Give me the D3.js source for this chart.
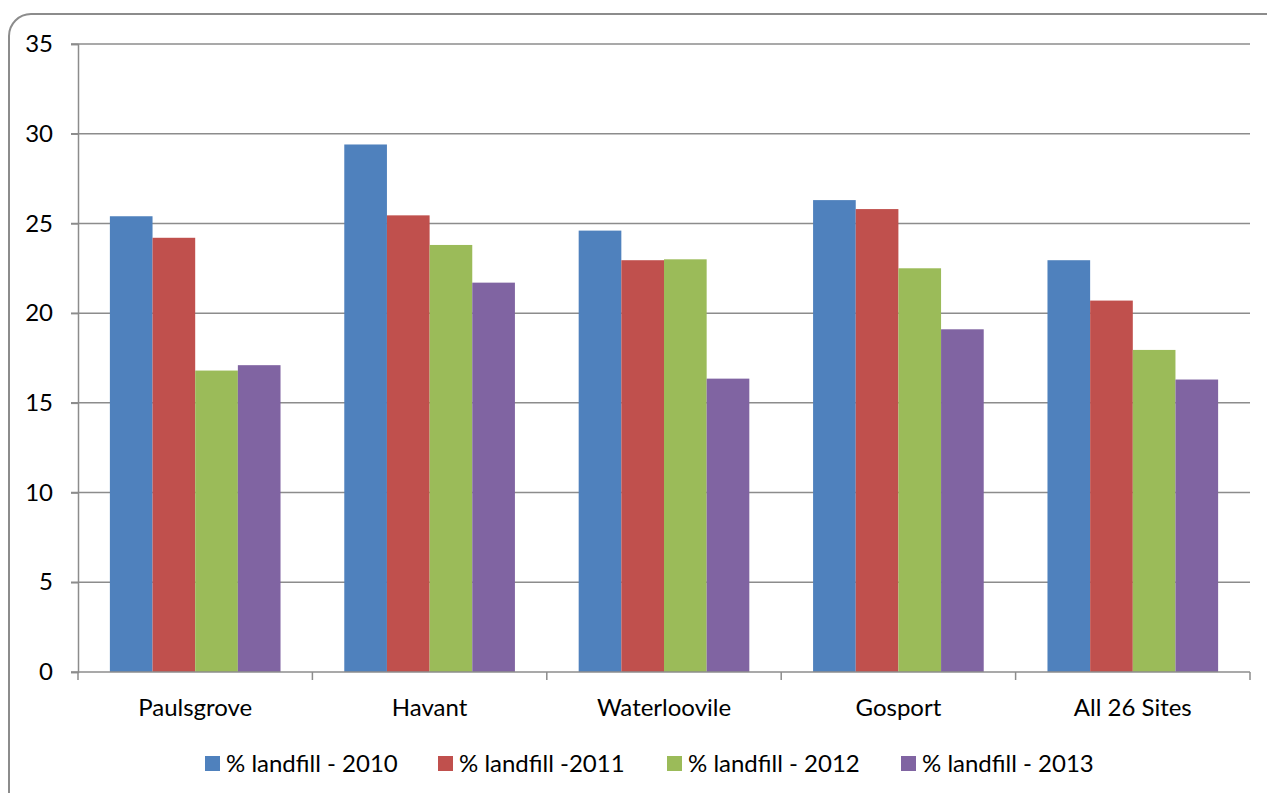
<!DOCTYPE html>
<head>
<meta charset="utf-8">
<title>% landfill by site</title>
<script src="https://d3js.org/d3.v7.min.js"></script>
<style>
  body { margin: 0; background: #fff; }
  svg text { font-family: Lato, "Open Sans", sans-serif; fill: #000; }
</style>
</head>
<body>
<div id="container"></div>
<script>
// ---------------- DATA ----------------
const sites = ["Paulsgrove", "Havant", "Waterloovile", "Gosport", "All 26 Sites"];
const seriesNames = ["% landfill - 2010", "% landfill -2011", "% landfill - 2012", "% landfill - 2013"];
const landfill2010 = [25.4, 29.4, 24.6, 26.3, 22.95];
const landfill2011 = [24.2, 25.45, 22.95, 25.8, 20.7];
const landfill2012 = [16.8, 23.8, 23.0, 22.5, 17.95];
const landfill2013 = [17.1, 21.7, 16.35, 19.1, 16.3];
const yTicks = [0, 5, 10, 15, 20, 25, 30, 35];
const colours = ["#4F81BD", "#C0504D", "#9BBB59", "#8064A2"];

const allSeries = [landfill2010, landfill2011, landfill2012, landfill2013];

// ---------------- SVG ----------------
const width = 1267, height = 793;
const plot = { left: 78, right: 1250, top: 44, bottom: 672 };
const fontSize = "24px";

const svg = d3.select("#container").append("svg")
    .attr("width", width)
    .attr("height", height);

// outer rounded frame (runs off the right / bottom edge like the source)
svg.append("rect")
    .attr("x", 9).attr("y", 14)
    .attr("width", 1290).attr("height", 810)
    .attr("rx", 22).attr("ry", 22)
    .attr("fill", "#fff")
    .attr("stroke", "#8c8c8c")
    .attr("stroke-width", 2);

// ---------------- SCALES ----------------
const x0 = d3.scaleBand().domain(sites)
    .range([plot.left, plot.right])
    .paddingInner(0.272).paddingOuter(0.136);
const x1 = d3.scaleBand().domain(d3.range(seriesNames.length))
    .range([0, x0.bandwidth()]);
const y = d3.scaleLinear().domain([0, 35]).range([plot.bottom, plot.top]);

// category boundaries for tick marks
const step = (plot.right - plot.left) / sites.length;

// ---------------- GRID ----------------
svg.append("g").selectAll("line")
    .data(yTicks.filter(d => d > 0))
    .join("line")
    .attr("x1", plot.left - 7).attr("x2", plot.right)
    .attr("y1", d => y(d)).attr("y2", d => y(d))
    .attr("stroke", "#8c8c8c").attr("stroke-width", 1.5);

// ---------------- BARS ----------------
const groups = svg.append("g").selectAll("g")
    .data(allSeries)
    .join("g")
    .attr("fill", (d, i) => colours[i]);

groups.selectAll("rect")
    .data((vals, si) => vals.map((v, ci) => ({ v, ci, si })))
    .join("rect")
    .attr("x", d => x0(sites[d.ci]) + x1(d.si))
    .attr("width", x1.bandwidth())
    .attr("y", d => y(d.v))
    .attr("height", d => y(0) - y(d.v));

// ---------------- AXES ----------------
const yAxis = d3.axisLeft(y).tickValues(yTicks).tickSize(7).tickPadding(18);
const gy = svg.append("g")
    .attr("transform", `translate(${plot.left},0)`)
    .call(yAxis);
gy.select(".domain").attr("stroke", "#8c8c8c").attr("stroke-width", 1.5);
gy.selectAll(".tick line").attr("stroke", "#8c8c8c").attr("stroke-width", 1.5);
gy.selectAll("text").style("font-size", fontSize).attr("fill", "#000");

// x axis line + ticks at category boundaries
svg.append("line")
    .attr("x1", plot.left - 7).attr("x2", plot.right)
    .attr("y1", plot.bottom).attr("y2", plot.bottom)
    .attr("stroke", "#8c8c8c").attr("stroke-width", 1.5);
svg.append("g").selectAll("line")
    .data(d3.range(sites.length + 1))
    .join("line")
    .attr("x1", i => plot.left + i * step).attr("x2", i => plot.left + i * step)
    .attr("y1", plot.bottom).attr("y2", plot.bottom + 8)
    .attr("stroke", "#8c8c8c").attr("stroke-width", 1.5);

svg.append("g").selectAll("text")
    .data(sites)
    .join("text")
    .attr("x", d => x0(d) + x0.bandwidth() / 2)
    .attr("y", 716)
    .attr("text-anchor", "middle")
    .style("font-size", fontSize)
    .text(d => d);

// ---------------- LEGEND ----------------
const legendX = [205, 438, 667, 901];
const legend = svg.append("g").selectAll("g")
    .data(seriesNames)
    .join("g")
    .attr("transform", (d, i) => `translate(${legendX[i]},756)`);
legend.append("rect")
    .attr("width", 15).attr("height", 15)
    .attr("fill", (d, i) => colours[i]);
legend.append("text")
    .attr("x", 21).attr("y", 16)
    .style("font-size", fontSize)
    .text(d => d);
</script>
</body>
